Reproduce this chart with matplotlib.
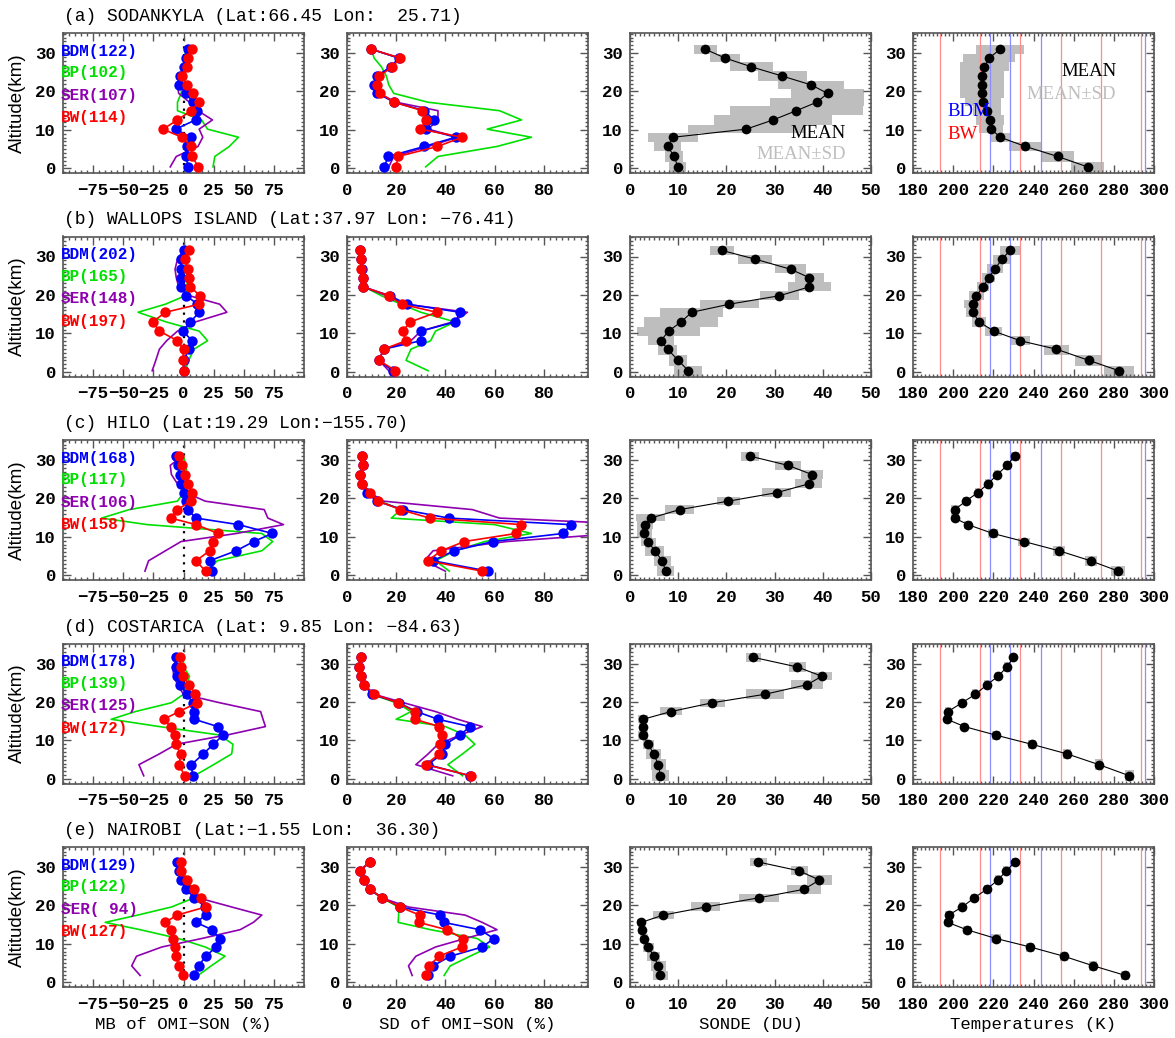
import matplotlib
matplotlib.use('Agg')
import matplotlib.pyplot as plt
from matplotlib.ticker import MultipleLocator
import numpy as np

plt.rcParams['font.family'] = ['Liberation Mono', 'DejaVu Sans Mono']

# ---------------- data ----------------
TITLES = ["(a) SODANKYLA (Lat:66.45 Lon:  25.71)",
          "(b) WALLOPS ISLAND (Lat:37.97 Lon: \u221276.41)",
          "(c) HILO (Lat:19.29 Lon:\u2212155.70)",
          "(d) COSTARICA (Lat: 9.85 Lon: \u221284.63)",
          "(e) NAIROBI (Lat:\u22121.55 Lon:  36.30)"]
N_BDM = [122, 202, 168, 178, 129]
N_BP = [102, 165, 117, 139, 122]
N_SER = [107, 148, 106, 125, 94]
N_BW = [114, 197, 158, 172, 127]

ALT = [[0.4, 3.1, 5.7, 8.1, 10.2, 12.6, 15.0, 17.2, 19.5, 21.7, 24.0, 26.4, 28.7, 31.0],
       [0.3, 3.0, 5.9, 8.1, 10.6, 13.0, 15.5, 17.6, 19.8, 22.1, 24.5, 26.7, 29.3, 31.6],
       [1.1, 3.8, 6.4, 8.8, 10.9, 13.2, 14.9, 17.1, 19.3, 21.5, 23.8, 26.2, 28.6, 31.0],
       [0.8, 3.7, 6.5, 9.0, 11.4, 13.6, 15.5, 17.5, 19.8, 22.0, 24.5, 26.7, 29.1, 31.6],
       [1.8, 4.3, 6.8, 9.2, 11.4, 13.7, 15.6, 17.5, 19.6, 22.0, 24.2, 26.6, 29.0, 31.3]]

# mean bias of OMI - sonde (%)
MB_BDM = [[4, 2, 3, 6, -6.5, 10, 11, 8, 2, -4, -3, 0, 2, 4],
          [0, 0.5, 4.3, 7.2, -0.6, 5.8, 13, 11.6, 2.3, -2, -2, -2, -2, 0.6],
          [24, 21.7, 43.7, 58.3, 73.8, 45.6, 10.4, 3.4, 2, 0.6, -2.3, -3.1, -4.2, -6.5],
          [7.5, 6.6, 16.4, 24.8, 32.8, 28.4, 9, 9, 7.5, 3, -3, -5.4, -6, -6],
          [8.9, 12.5, 18.5, 27, 30, 23.6, 10.5, 18.5, 18, 9, 2, -2, -4, -5.4]]
MB_BW = [[12.4, 7, 6.2, -1.4, -17, -5, 6.2, 13.2, 7.6, 2.5, -1.4, 2.5, 3.9, 7],
         [0, -0.5, 0, -5, -20, -25.5, -15, 13, 13.6, 5.8, 4.3, 3.8, 1, 4.3],
         [18.3, 10.4, 21.7, 24.5, 28.7, 10.4, -10.7, -5, 6.2, 7, 3.4, 1.4, -1.4, -3.7],
         [0.9, -3.6, -2.4, -6.6, -6.9, -10.4, -16.4, -3.6, 11.3, 9.9, 4.5, -0.6, -2.4, -3],
         [-0.6, -3.8, -6.4, -7, -8.6, -10.2, -15, -5.4, 18.5, 14.7, 8.3, 2.6, -2.2, -2.2]]
MB_BP = [[24.5, 26, 38, 45.6, 20, 15, -5, -5, -2, -1, -1, 0, 1, 2],
         [1.4, 4.3, 8.7, 20, 13, -14.5, -37.7, -15, 1.5, 3, 3, 2, 1.5, 0.6],
         [20, 28, 65, 74, 65, -30, -68, -45, -5, 0, 2, 3, 2, 0],
         [9, 25, 40, 41, 30, -20, -60, -40, -10, 0, 3, 5, 0, 0],
         [12, 23, 34.5, 18, -4, -36, -65, -38, -10, 9, 7, 3, 0, -1]]
MB_SER = [[-11, -6, 12, 16, 13, 24, 12, 5, -4, -5, -2, 0, 2, 3],
          [-26, -23, -20, -14, -5, 10, 36, 30, 5, -4, -6, -7, -5, 0],
          [-32, -29, -15, -2, 44, 83, 70, 67, 18, 2, -5, -10, -11, -1],
          [-33, -37, -20, -6, 36, 68, 66, 64, 30, 0, -5, -8, -9, -5],
          [-36, -43, -39, -18, 15, 47, 58, 65, 40, 12, 4, -1, -5, -3]]

# standard deviation of OMI - sonde (%)
SD_BDM = [[15.1, 16.8, 31.4, 44.2, 32, 35.4, 31.4, 19.2, 12.4, 10.8, 12.2, 17.8, 21.2, 9.7],
          [18.6, 13, 14.9, 30, 30, 44, 46, 24.3, 17.4, 6.7, 6.7, 6, 5.8, 5.2],
          [57.4, 34.9, 43.6, 59.3, 87.9, 91, 41.3, 22.8, 12, 8.3, 6, 5.4, 6.7, 6],
          [50, 32.8, 38.8, 40, 46, 50, 37, 28.3, 21, 10.2, 6.9, 5.7, 5, 5.7],
          [32.8, 35, 42, 55, 59.7, 54, 39.3, 38, 21.6, 14.3, 9.3, 6.9, 5.2, 9.3]]
SD_BW = [[19.9, 20.8, 36.8, 46.9, 29.7, 32.3, 30.7, 19.2, 13.5, 12.2, 13.1, 18.5, 21.6, 9.7],
         [19.7, 13, 14.9, 24, 22.6, 25.8, 36.5, 22.2, 17.1, 6.7, 6.7, 5.8, 5.8, 5.2],
         [55, 32.9, 38.3, 47.7, 68.7, 70.9, 33.6, 21.7, 12.8, 9.4, 6, 5.4, 6.7, 6],
         [50.5, 32, 37.6, 38, 38.5, 37.6, 27.5, 27.5, 20.8, 11, 6.9, 5.7, 5, 5.7],
         [32.3, 33.4, 37.4, 46.7, 47, 40.5, 29.2, 29.5, 21.6, 14.3, 9.3, 6.9, 5.2, 9.3]]
SD_BP = [[32, 37, 61, 75, 57, 71, 62, 33, 19, 17, 16, 14, 11, 10],
         [33, 24, 26, 34, 36, 44, 30, 22, 14, 7, 6.7, 6, 5.8, 5.2],
         [41.6, 36, 44, 56, 75, 60, 18, 22, 13.4, 9.4, 6, 5.4, 6.7, 6],
         [47, 41, 47, 52, 48, 40, 20, 26, 20, 10, 6.9, 5.7, 5, 5.7],
         [39.5, 42, 50, 58, 53, 34, 20.8, 21, 21, 14, 9.3, 6.9, 5.2, 9.3]]
SD_SER = [[17, 19, 33, 45, 33, 37, 37, 20, 13, 11, 12, 18, 21, 10],
          [17, 13, 15, 26, 30, 43, 49, 24, 16, 6.7, 6.7, 6, 5.8, 5.2],
          [40, 31.5, 35, 65, 110, 120, 62, 51, 14.8, 9.4, 6, 5.4, 6.7, 6],
          [43, 28, 33, 37, 46, 55, 45, 36, 23, 11, 7, 5.5, 4.8, 5.5],
          [26.5, 25, 28, 36, 48, 61, 55, 48, 25, 14, 9.3, 6.9, 5.2, 9.3]]

# sonde ozone (DU): mean and SD
SON_MEAN = [[9.9, 9.2, 7.8, 9.0, 24.1, 29.7, 34.5, 38.75, 41, 37.6, 31.6, 25.2, 19.7, 15.6],
            [12.1, 10, 7.8, 6.4, 8, 10.6, 12.8, 20.6, 31, 37.2, 37.2, 33.3, 26, 19],
            [7.4, 6.7, 5.1, 3.8, 3.0, 3.1, 4.3, 10.3, 20.4, 30.4, 37.1, 37.8, 32.8, 24.9],
            [6.3, 5.9, 4.9, 3.8, 2.7, 2.7, 2.7, 8.5, 17.1, 28, 36.8, 39.8, 34.7, 25.6],
            [6.3, 5.9, 4.9, 3.8, 2.9, 2.5, 2.35, 6.9, 15.7, 26.8, 36.1, 39.3, 35.1, 26.6]]
SON_SD = [[1.75, 1.85, 2.8, 5.2, 12, 12.2, 13.75, 9.75, 7.5, 6.9, 5.1, 4.4, 3.2, 2.4],
          [2.9, 1.9, 2, 2.7, 6.5, 7.7, 6.5, 6.1, 4, 4.5, 3, 3.3, 3.5, 2.5],
          [1.8, 1.8, 2, 1.6, 1.6, 1.6, 3, 3, 2.4, 3.1, 2.8, 2.3, 2.7, 1.8],
          [1.8, 1.5, 1.5, 1.2, 1, 0.8, 1, 2.2, 2.6, 4, 3.3, 2.2, 1.8, 1.5],
          [1.5, 1.5, 1.3, 1.2, 0.8, 0.8, 0.8, 2.2, 3, 4.2, 3.5, 2.6, 1.8, 1.8]]

# temperature (K): mean and SD
T_MEAN = [[266.9, 252, 236, 223.4, 219, 218.5, 216.8, 214.8, 214.3, 214.3, 214.4, 215.6, 218, 223.4],
          [282.6, 267.5, 251.4, 233.4, 220.2, 213, 209.7, 209.7, 211.6, 214.8, 217.7, 220.7, 224.3, 228.3],
          [282.3, 268.4, 252.7, 235.3, 219.8, 207.3, 200.8, 200.8, 206.3, 212.2, 217.3, 222, 226.8, 230.6],
          [287.8, 272.6, 256.7, 239.1, 221.1, 205.6, 196.9, 197.4, 204.4, 211.1, 216.9, 222.4, 226.8, 230],
          [285.8, 269.8, 255.1, 238.4, 221.4, 206.7, 197.3, 197.7, 204.5, 210.5, 216.7, 222.2, 226.5, 230.8]]
T_SD = [[8, 8, 8, 5.3, 6, 7, 7, 9, 11, 11, 11, 12, 13, 12],
        [7.5, 6.6, 6.2, 5, 4.3, 3.5, 3.5, 4.3, 3.8, 2.8, 3.3, 4, 4.7, 5.2],
        [3.5, 3, 3, 3, 2.5, 2, 2, 2, 1.5, 1.5, 1.5, 1.5, 1.5, 2],
        [2, 2, 2, 2, 2, 1.5, 1.5, 1.5, 1.5, 1.5, 1.5, 1.5, 1.5, 1.5],
        [2, 2, 2, 2, 2.5, 2, 2, 2, 1.5, 1.5, 1.5, 1.5, 1.5, 1.5]]

T_LINES_BW = [193.5, 213.5, 233.5, 253.5, 273.5, 293.5]
T_LINES_BDM = [218.5, 228.5, 243.5, 295.5]

XLABELS = ["MB of OMI\u2212SON (%)", "SD of OMI\u2212SON (%)", "SONDE (DU)", "Temperatures (K)"]

# ---------------- style ----------------
C_BDM = '#0000FF'
C_BW = '#FF0000'
C_BP = '#00E000'
C_SER = '#8E00B0'
C_GREY = '#BEBEBE'
FRAME = '#555555'

W, H = 1175, 1038
fig = plt.figure(figsize=(W / 100, H / 100), dpi=100)

col_left = [63, 347, 630, 913]
ax_w = 241
ax_h = 140
row_top0 = 33
row_pitch = 203.5

xlims = [(-100, 100), (0, 98), (0, 50), (180, 300)]
xmajor = [[-75, -50, -25, 0, 25, 50, 75], [0, 20, 40, 60, 80], [0, 10, 20, 30, 40, 50],
          [180, 200, 220, 240, 260, 280, 300]]
xminor = [5, 2.5, 1, 2]


def layer_edges(alt):
    a = np.asarray(alt, dtype=float)
    mids = (a[1:] + a[:-1]) / 2
    lo = np.r_[a[0] - (mids[0] - a[0]), mids]
    hi = np.r_[mids, a[-1] + (a[-1] - mids[-1])]
    return lo, hi


def style_axes(ax, c):
    ax.set_xlim(*xlims[c])
    ax.set_ylim(-1.2, 35.2)
    ax.set_xticks(xmajor[c])
    ax.set_yticks([0, 10, 20, 30])
    ax.xaxis.set_minor_locator(MultipleLocator(xminor[c]))
    ax.yaxis.set_minor_locator(MultipleLocator(1))
    ax.tick_params(which='both', direction='in', top=True, right=True, color=FRAME,
                   labelsize=12.5)
    ax.tick_params(which='major', length=6, width=1.0)
    ax.tick_params(which='minor', length=2.2, width=1.0)
    ax.tick_params(axis='x', pad=7)
    ax.tick_params(axis='y', pad=5)
    for lab in ax.get_xticklabels() + ax.get_yticklabels():
        lab.set_fontweight('bold')
    for s in ax.spines.values():
        s.set_color(FRAME)
        s.set_linewidth(1.2)


for r in range(5):
    top = row_top0 + r * row_pitch
    alt = np.array(ALT[r])
    lo, hi = layer_edges(alt)
    axes = []
    for c in range(4):
        ax = fig.add_axes([col_left[c] / W, 1 - (top + ax_h) / H, ax_w / W, ax_h / H])
        style_axes(ax, c)
        axes.append(ax)

    # --- column 1: mean bias
    ax = axes[0]
    ax.axvline(0, color='black', ls=(0, (1, 2.5)), lw=1.6, zorder=1)
    ax.plot(MB_BP[r], alt, color=C_BP, lw=1.2, zorder=2)
    ax.plot(MB_SER[r], alt, color=C_SER, lw=1.2, zorder=2)
    ax.plot(MB_BDM[r], alt, color=C_BDM, lw=1.2, marker='o', ms=7.5, mec='none', zorder=3)
    ax.plot(MB_BW[r], alt, color=C_BW, lw=1.2, marker='o', ms=7.5, mec='none', zorder=4)
    leg = [(f"BDM({N_BDM[r]:3d})", C_BDM, 30.4), (f"BP({N_BP[r]:3d})", C_BP, 24.9),
           (f"SER({N_SER[r]:3d})", C_SER, 19.0), (f"BW({N_BW[r]:3d})", C_BW, 13.2)]
    for txt, col, yy in leg:
        ax.text(-0.008, yy, txt, color=col, fontsize=11.5, fontweight='bold',
                transform=ax.get_yaxis_transform(), ha='left', va='center', zorder=5)
    ax.set_ylabel('Altitude(km)', family='Liberation Sans', fontsize=13.5, va='center')
    ax.yaxis.set_label_coords(-0.187, 0.5)

    # --- column 2: standard deviation
    ax = axes[1]
    ax.plot(SD_BP[r], alt, color=C_BP, lw=1.2, zorder=2)
    ax.plot(SD_SER[r], alt, color=C_SER, lw=1.2, zorder=2)
    ax.plot(SD_BDM[r], alt, color=C_BDM, lw=1.2, marker='o', ms=7.5, mec='none', zorder=3)
    ax.plot(SD_BW[r], alt, color=C_BW, lw=1.2, marker='o', ms=7.5, mec='none', zorder=4)

    # --- column 3: sonde ozone
    ax = axes[2]
    m = np.array(SON_MEAN[r]); s = np.array(SON_SD[r])
    ax.barh((lo + hi) / 2, 2 * s, left=m - s, height=hi - lo, color=C_GREY, edgecolor='none', zorder=1)
    ax.plot(m, alt, color='black', lw=0.8, marker='o', ms=7, mec='none', zorder=3)

    # --- column 4: temperature
    ax = axes[3]
    m = np.array(T_MEAN[r]); s = np.array(T_SD[r])
    ax.barh((lo + hi) / 2, 2 * s, left=m - s, height=hi - lo, color=C_GREY, edgecolor='none', zorder=1)
    for t in T_LINES_BW:
        ax.axvline(t, color='#FF8C8C', lw=0.9, zorder=2)
    for t in T_LINES_BDM:
        ax.axvline(t, color='#8C8CFF', lw=0.9, zorder=2)
    ax.plot(m, alt, color='black', lw=0.8, marker='o', ms=7, mec='none', zorder=3)

    if r == 0:
        axes[2].text(44.8, 9.1, 'MEAN', ha='right', va='center', family='Liberation Serif',
                     fontsize=13.5, color='black')
        axes[2].text(44.8, 3.5, 'MEAN\u00b1SD', ha='right', va='center', family='Liberation Serif',
                     fontsize=13.5, color=C_GREY)
        axes[3].text(281.2, 25.2, 'MEAN', ha='right', va='center', family='Liberation Serif',
                     fontsize=13.5, color='black', zorder=5)
        axes[3].text(281.2, 19.1, 'MEAN\u00b1SD', ha='right', va='center', family='Liberation Serif',
                     fontsize=13.5, color=C_GREY, zorder=5)
        axes[3].text(197.4, 14.8, 'BDM', ha='left', va='center', family='Liberation Serif',
                     fontsize=13.5, color=C_BDM, zorder=5)
        axes[3].text(197.4, 8.7, 'BW', ha='left', va='center', family='Liberation Serif',
                     fontsize=13.5, color=C_BW, zorder=5)

    if r == 4:
        for c in range(4):
            axes[c].set_xlabel(XLABELS[c], fontsize=12.5, labelpad=4)

    fig.text(64 / W, 1 - (top - 16.5) / H, TITLES[r], fontsize=13, ha='left', va='center')

fig.savefig('out.png', dpi=100)
